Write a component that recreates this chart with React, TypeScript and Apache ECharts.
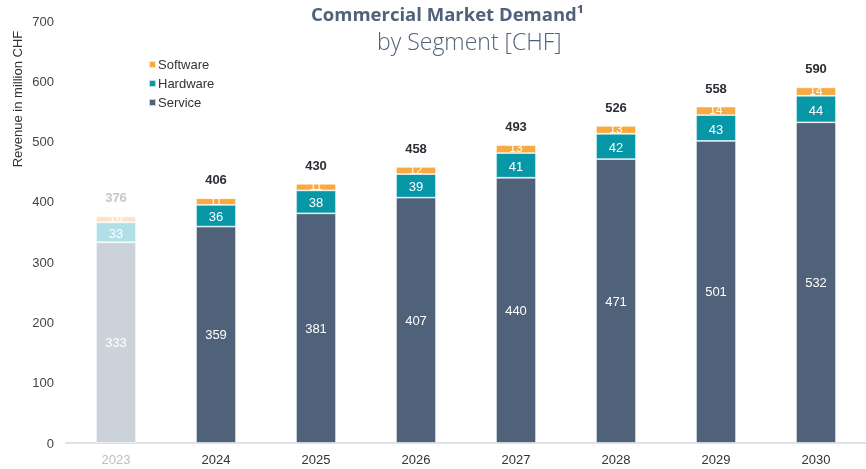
import React, { useEffect, useRef } from "react";
import * as echarts from "echarts";

const years = ["2023", "2024", "2025", "2026", "2027", "2028", "2029", "2030"];
const service = [333, 359, 381, 407, 440, 471, 501, 532];
const hardware = [33, 36, 38, 39, 41, 42, 43, 44];
const software = [10, 11, 11, 12, 13, 13, 14, 14];
const totals = [376, 406, 430, 458, 493, 526, 558, 590];
const yTicks = [0, 100, 200, 300, 400, 500, 600, 700];

const C_SERVICE = "#4f627a";
const C_HARD = "#0897a6";
const C_SOFT = "#f9a940";
const C_SERVICE_OLD = "#cbd2da";
const C_HARD_OLD = "#b0dfe5";
const C_SOFT_OLD = "#fde4c6";
const FONT = "Liberation Sans, Arial, sans-serif";

export default function App() {
  const ref = useRef<HTMLDivElement>(null);
  useEffect(() => {
    if (!ref.current) return;
    const chart = echarts.init(ref.current, undefined, { renderer: "svg" });
    const mk = (vals: number[], c: string, old: string) =>
      vals.map((v, i) => (i === 0 ? { value: v, itemStyle: { color: old } } : { value: v, itemStyle: { color: c } }));
    const insideLabel = { show: true, position: "inside", color: "#fff", fontSize: 13, fontFamily: FONT };
    const border = { borderColor: "rgba(255,255,255,0.7)", borderWidth: 0.8 };
    chart.setOption({
      animation: false,
      textStyle: { fontFamily: FONT },
      grid: { left: 66, width: 808, top: 21, bottom: 26 },
      legend: {
        data: ["Software", "Hardware", "Service"],
        orient: "vertical",
        left: 143,
        top: 53,
        itemWidth: 7,
        itemHeight: 7,
        itemGap: 6,
        icon: "rect",
        textStyle: { fontSize: 13, color: "#333", fontFamily: FONT, padding: [0, 0, 0, -3] },
      },
      graphic: [
        {
          type: "text",
          left: 311,
          top: 4,
          style: { text: "Commercial Market Demand¹", fill: "#4f627a", font: "bold 18.5px 'Open Sans', sans-serif" },
        },
        {
          type: "text",
          left: 377,
          top: 29,
          style: { text: "by Segment [CHF]", fill: "#4f627a", font: "300 23px 'Open Sans', sans-serif" },
        },
        {
          type: "text",
          x: 17,
          y: 99,
          rotation: Math.PI / 2,
          style: {
            text: "Revenue in million CHF",
            fill: "#333",
            font: "13px " + FONT,
            textAlign: "center",
            textVerticalAlign: "middle",
          },
        },
      ],
      xAxis: {
        type: "category",
        data: years,
        axisLine: { lineStyle: { color: "#dde2ea", width: 2 } },
        axisTick: { show: false },
        axisLabel: {
          fontSize: 13,
          margin: 10,
          color: (v: string) => (v === years[0] ? "#bdbdbd" : "#333"),
        },
      },
      yAxis: {
        type: "value",
        min: yTicks[0],
        max: yTicks[yTicks.length - 1],
        interval: 100,
        splitLine: { show: false },
        axisLine: { show: false },
        axisTick: { show: false },
        axisLabel: { fontSize: 13, color: "#444", margin: 12 },
      },
      series: [
        {
          name: "Service",
          type: "bar",
          stack: "a",
          barWidth: 40,
          itemStyle: { color: C_SERVICE, ...border },
          data: mk(service, C_SERVICE, C_SERVICE_OLD),
          label: insideLabel,
        },
        {
          name: "Hardware",
          type: "bar",
          stack: "a",
          itemStyle: { color: C_HARD, ...border },
          data: mk(hardware, C_HARD, C_HARD_OLD),
          label: { ...insideLabel, lineHeight: 12, offset: [0, 1] },
        },
        {
          name: "Software",
          type: "bar",
          stack: "a",
          itemStyle: { color: C_SOFT, ...border },
          data: mk(software, C_SOFT, C_SOFT_OLD),
          label: { ...insideLabel, fontSize: 12, lineHeight: 11, offset: [0, -1] },
        },
        {
          name: "Total",
          type: "bar",
          stack: "a",
          itemStyle: { color: "transparent" },
          data: totals.map((t, i) => ({
            value: 0,
            label: {
              show: true,
              position: "top",
              distance: 12,
              fontSize: 13,
              fontWeight: "bold",
              fontFamily: FONT,
              formatter: String(t),
              color: i === 0 ? "#c3c6cc" : "#2b2f36",
            },
          })),
        },
      ],
    });
    return () => chart.dispose();
  }, []);
  return <div ref={ref} style={{ position: "fixed", left: 0, top: 0, width: 866, height: 469 }} />;
}
